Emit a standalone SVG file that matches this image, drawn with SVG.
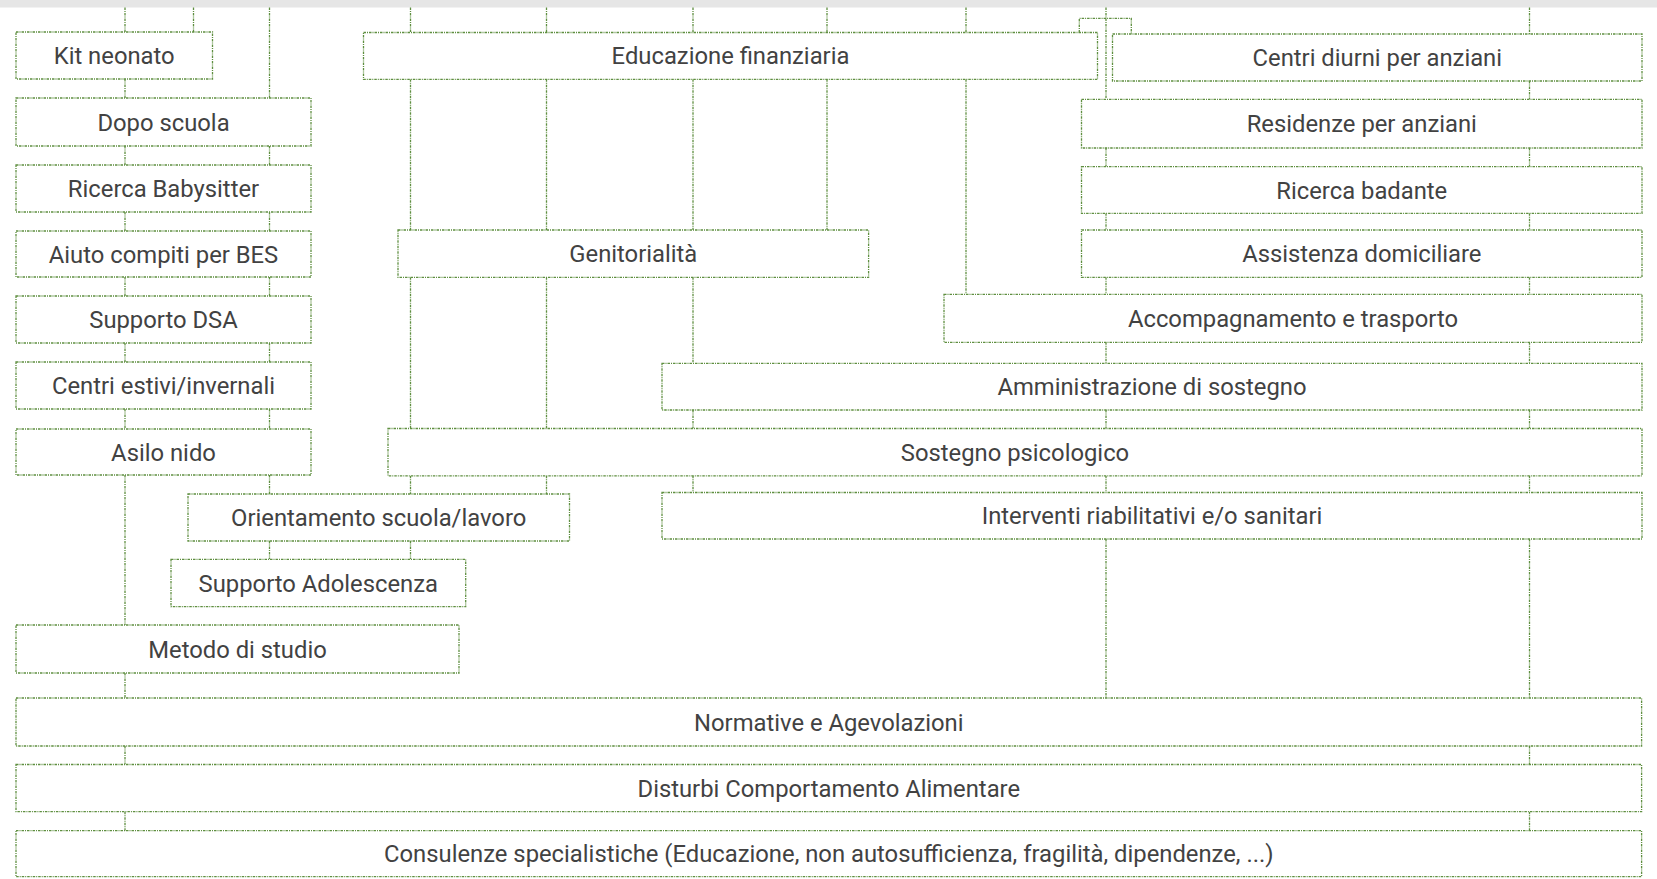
<svg xmlns="http://www.w3.org/2000/svg" width="1657" height="879" viewBox="0 0 1657 879">
<style>
.n rect{fill:#fff;stroke:#5f8f40;stroke-width:1.3;stroke-dasharray:2.5 1 1 1}
.n text{font-family:Roboto,"Liberation Sans",sans-serif;font-size:23.8px;fill:#424242;text-anchor:middle}
#edges path{fill:none;stroke:#5f8f40;stroke-width:1.3;stroke-dasharray:2.5 1 1 1}
</style>
<rect x="0" y="0" width="1657" height="879" fill="#fff"/>
<rect x="0" y="0" width="1657" height="7.5" fill="#e6e6e6"/>
<g id="edges">
<path d="M125 7.5V32M125 79V98M125 146V165M125 212V231M125 277V296M125 343V362M125 409V429M125 475V625M125 673V698M125 746V764.5M125 811.7V830.7"/>
<path d="M193.5 7.5V32"/>
<path d="M269.5 7.5V98M269.5 146V165M269.5 212V231M269.5 277V296M269.5 343V362M269.5 409V429M269.5 475V494M269.5 541V559.3"/>
<path d="M410.5 7.5V32.5M410.5 79.3V230M410.5 277.3V428.5M410.5 475.8V494M410.5 541V559.3"/>
<path d="M546.5 7.5V32.5M546.5 79.3V230M546.5 277.3V428.5M546.5 475.8V494"/>
<path d="M693 7.5V32.5M693 79.3V230M693 277.3V363.3M693 410V428.5M693 475.8V492.5"/>
<path d="M827 7.5V32.5M827 79.3V230"/>
<path d="M966 7.5V32.5M966 79.3V294.3"/>
<path d="M1106 7.5V99.3M1106 148V166.7M1106 213.3V230M1106 277.3V294.3M1106 342.3V363.3M1106 410V428.5M1106 475.8V492.5M1106 539V698"/>
<path d="M1079.3 32.5V18.3H1131.3V34"/>
<path d="M1529.5 7.5V34M1529.5 81V99.3M1529.5 148V166.7M1529.5 213.3V230M1529.5 277.3V294.3M1529.5 342.3V363.3M1529.5 410V428.5M1529.5 475.8V492.5M1529.5 539V698M1529.5 746V764.5M1529.5 811.7V830.7"/>
</g>
<g id="kit" class="n"><rect x="16" y="32" width="196.5" height="47"/><text x="114.2" y="64">Kit neonato</text></g>
<g id="dopo" class="n"><rect x="16" y="98" width="295" height="48"/><text x="163.5" y="130.5">Dopo scuola</text></g>
<g id="babysitter" class="n"><rect x="16" y="165" width="295" height="47"/><text x="163.5" y="197">Ricerca Babysitter</text></g>
<g id="bes" class="n"><rect x="16" y="231" width="295" height="46"/><text x="163.5" y="262.5">Aiuto compiti per BES</text></g>
<g id="dsa" class="n"><rect x="16" y="296" width="295" height="47"/><text x="163.5" y="328">Supporto DSA</text></g>
<g id="estivi" class="n"><rect x="16" y="362" width="295" height="47"/><text x="163.5" y="394">Centri estivi/invernali</text></g>
<g id="asilo" class="n"><rect x="16" y="429" width="295" height="46"/><text x="163.5" y="460.5">Asilo nido</text></g>
<g id="orientamento" class="n"><rect x="188" y="494" width="381.5" height="47"/><text x="378.7" y="526">Orientamento scuola/lavoro</text></g>
<g id="adolescenza" class="n"><rect x="171" y="559.3" width="294.7" height="47.4"/><text x="318.3" y="591.5">Supporto Adolescenza</text></g>
<g id="metodo" class="n"><rect x="16" y="625" width="443" height="48"/><text x="237.5" y="657.5">Metodo di studio</text></g>
<g id="educazione" class="n"><rect x="363.5" y="32.5" width="734" height="46.8"/><text x="730.5" y="64.4">Educazione finanziaria</text></g>
<g id="genitorialita" class="n"><rect x="398" y="230" width="470.6" height="47.3"/><text x="633.3" y="262.1">Genitorialità</text></g>
<g id="centridiurni" class="n"><rect x="1112.5" y="34" width="529.5" height="47"/><text x="1377.3" y="66">Centri diurni per anziani</text></g>
<g id="residenze" class="n"><rect x="1081.5" y="99.3" width="560.5" height="48.7"/><text x="1361.8" y="132.1">Residenze per anziani</text></g>
<g id="badante" class="n"><rect x="1081.5" y="166.7" width="560.5" height="46.6"/><text x="1361.8" y="198.5">Ricerca badante</text></g>
<g id="domiciliare" class="n"><rect x="1081.5" y="230" width="560.5" height="47.3"/><text x="1361.8" y="262.1">Assistenza domiciliare</text></g>
<g id="accompagnamento" class="n"><rect x="944" y="294.3" width="698" height="48"/><text x="1293" y="326.8">Accompagnamento e trasporto</text></g>
<g id="amministrazione" class="n"><rect x="662" y="363.3" width="980" height="46.7"/><text x="1152" y="395.1">Amministrazione di sostegno</text></g>
<g id="psicologico" class="n"><rect x="388" y="428.5" width="1254" height="47.3"/><text x="1015" y="460.6">Sostegno psicologico</text></g>
<g id="interventi" class="n"><rect x="662" y="492.5" width="980" height="46.5"/><text x="1152" y="524.2">Interventi riabilitativi e/o sanitari</text></g>
<g id="normative" class="n"><rect x="16" y="698" width="1625.6" height="48"/><text x="828.8" y="730.5">Normative e Agevolazioni</text></g>
<g id="disturbi" class="n"><rect x="16" y="764.5" width="1625.6" height="47.2"/><text x="828.8" y="796.6">Disturbi Comportamento Alimentare</text></g>
<g id="consulenze" class="n"><rect x="16" y="830.7" width="1625.6" height="46"/><text x="828.8" y="862.2">Consulenze specialistiche (Educazione, non autosufficienza, fragilità, dipendenze, ...)</text></g>
</svg>
